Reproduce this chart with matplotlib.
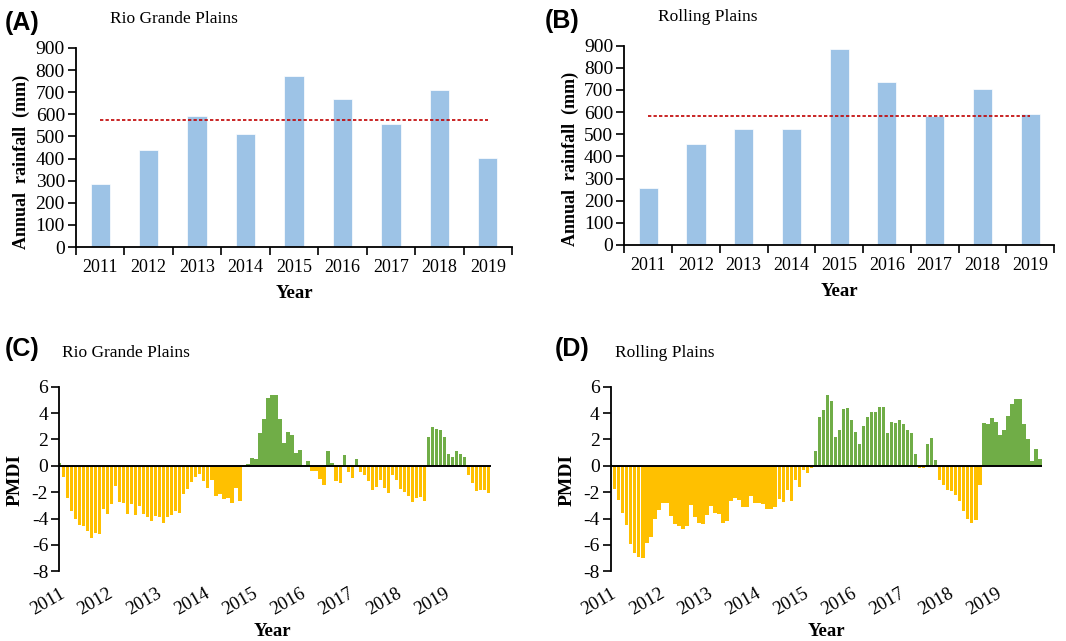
import matplotlib
matplotlib.use("Agg")
import matplotlib.pyplot as plt
import numpy as np

plt.rcParams["axes.unicode_minus"] = False

# ---------------- data ----------------
years = ["2011", "2012", "2013", "2014", "2015", "2016", "2017", "2018", "2019"]
rain_rio = [283, 437, 592, 513, 775, 668, 555, 708, 402]
rain_rolling = [257, 456, 522, 522, 886, 737, 582, 703, 591]
mean_rio = 575
mean_rolling = 582

# monthly PMDI, Jan 2011 .. Dec 2019
pmdi_rio = [
    0.2, -0.86, -2.46, -3.4, -4.0, -4.5, -4.6, -4.95, -5.5, -5.1, -5.2, -3.25,
    -3.65, -2.9, -1.5, -2.75, -2.8, -3.65, -2.9, -3.75, -3.05, -3.65, -3.85, -4.15,
    -3.8, -3.9, -4.3, -3.85, -3.7, -3.4, -3.55, -2.1, -1.75, -1.25, -0.85, -0.65,
    -1.15, -1.7, -1.05, -2.3, -2.15, -2.55, -2.45, -2.8, -1.7, -2.65, 0.05, 0.1,
    0.6, 0.5, 2.5, 3.56, 5.17, 5.4, 5.35, 3.56, 1.73, 2.54, 2.34, 0.97,
    1.22, 0.0, 0.36, -0.36, -0.36, -0.97, -1.47, 1.14, 0.2, -1.17, -1.27, 0.79,
    -0.5, -0.9, 0.53, -0.46, -0.7, -1.17, -1.83, -1.63, -1.07, -1.7, -2.03, -0.71,
    -1.07, -1.75, -1.96, -2.29, -2.72, -2.47, -2.34, -2.65, 2.16, 2.95, 2.8, 2.7,
    2.16, 0.89, 0.64, 1.14, 0.89, 0.64, -0.69, -1.32, -1.93, -1.83, -1.83, -2.03,
]
pmdi_rolling = [
    0.1, -1.78, -2.6, -3.6, -4.5, -5.9, -6.6, -6.9, -7.0, -5.85, -5.4, -4.0,
    -3.35, -2.8, -2.8, -3.8, -4.4, -4.55, -4.8, -4.55, -3.0, -3.9, -4.3, -4.4,
    -3.75, -3.05, -3.6, -3.65, -4.3, -4.15, -2.65, -2.45, -2.6, -3.15, -3.1, -2.3,
    -2.85, -2.8, -2.9, -3.3, -3.3, -3.1, -2.55, -2.75, -1.85, -2.65, -1.05, -1.6,
    -0.3, -0.55, -0.2, 1.15, 3.7, 4.2, 5.37, 4.9, 2.16, 2.7, 4.33, 4.4,
    3.5, 2.6, 1.68, 3.0, 3.7, 4.07, 4.07, 4.48, 4.48, 2.5, 3.3, 3.26,
    3.46, 3.2, 2.7, 2.5, 0.87, -0.2, -0.2, 1.68, 2.09, 0.46, -1.07, -1.42,
    -1.83, -1.93, -2.24, -2.7, -3.4, -4.0, -4.33, -4.1, -1.42, 3.26, 3.16, 3.64,
    3.3, 2.34, 2.7, 3.8, 4.68, 5.1, 5.1, 3.2, 2.0, 0.36, 1.3, 0.5,
]
pmdi_ticks = [-8, -6, -4, -2, 0, 2, 4, 6]
rain_ticks = list(range(0, 1000, 100))

# ---------------- style ----------------
W, H = 1066, 641
SERIF = ["Liberation Serif", "DejaVu Serif"]
SANS = ["Liberation Sans", "DejaVu Sans"]
BLUE = "#9DC3E6"
YELLOW = "#FFC000"
GREEN = "#70AD47"
RED = "#C00000"

fig = plt.figure(figsize=(W / 100, H / 100), dpi=100)


def ax_px(left, top, right, bottom):
    return fig.add_axes([left / W, 1 - bottom / H, (right - left) / W, (bottom - top) / H])


def ftext(x, y, s, **kw):
    fig.text(x / W, 1 - y / H, s, **kw)


def rain_panel(rect, values, mean, letter, title, lpos, tpos, ylab_x):
    ax = ax_px(*rect)
    x = np.arange(len(values))
    ax.bar(x, values, width=0.4, color=BLUE, edgecolor="white", linewidth=0.5, zorder=2)
    ax.plot([x[0], x[-1]], [mean, mean], color=RED, lw=1.2, ls=(0, (2, 1.3)), zorder=3)
    ax.set_xlim(-0.5, len(values) - 0.5)
    ax.set_ylim(0, 900)
    ax.set_yticks(rain_ticks)
    ax.set_xticks(x)
    ax.set_xticklabels(years)
    ax.set_xticks(np.arange(-0.5, len(values), 1.0), minor=True)
    ax.tick_params(axis="x", which="major", length=0, pad=9)
    ax.tick_params(axis="x", which="minor", length=6, width=1.2, direction="out")
    ax.tick_params(axis="y", length=6, width=1.2, direction="out", pad=2)
    for lab in ax.get_xticklabels():
        lab.set_fontfamily(SERIF)
        lab.set_fontsize(13)
    for lab in ax.get_yticklabels():
        lab.set_fontfamily(SERIF)
        lab.set_fontsize(14)
    for s in ["top", "right"]:
        ax.spines[s].set_visible(False)
    for s in ["left", "bottom"]:
        ax.spines[s].set_linewidth(1.3)
    ax.set_xlabel("Year", fontfamily=SERIF, fontweight="bold", fontsize=13.5, labelpad=6)
    ftext(ylab_x, (rect[1] + rect[3]) / 2 + 14, "Annual  rainfall  (mm)", rotation=90,
          ha="center", va="center", fontfamily=SERIF, fontweight="bold", fontsize=13)
    ftext(lpos[0], lpos[1], letter, ha="left", va="center", fontfamily=SANS,
          fontweight="bold", fontsize=18)
    ftext(tpos[0], tpos[1], title, ha="left", va="center", fontfamily=SERIF, fontsize=12.5)
    return ax


def pmdi_panel(rect, values, letter, title, lpos, tpos, ylab_x, year_x):
    ax = ax_px(*rect)
    x = np.arange(len(values))
    vals = np.array(values)
    colors = [GREEN if v > 0 else YELLOW for v in vals]
    ax.bar(x, vals, width=0.85, color=colors, edgecolor="none", zorder=2)
    ax.axhline(0, color="black", lw=1.4, zorder=3)
    ax.set_xlim(0, len(values) - 0.5)
    ax.set_ylim(-8, 6)
    ax.set_yticks(pmdi_ticks)
    ax.set_xticks(np.arange(0, len(values), 12))
    ax.set_xticklabels(years, rotation=30, ha="right", rotation_mode="anchor")
    ax.tick_params(axis="x", length=0, pad=10)
    ax.tick_params(axis="y", length=6, width=1.2, direction="out", pad=2)
    for lab in ax.get_xticklabels():
        lab.set_fontfamily(SERIF)
        lab.set_fontsize(13.5)
    for lab in ax.get_yticklabels():
        lab.set_fontfamily(SERIF)
        lab.set_fontsize(14)
    for s in ["top", "right", "bottom"]:
        ax.spines[s].set_visible(False)
    ax.spines["left"].set_linewidth(1.3)
    ftext(ylab_x, 480, "PMDI", rotation=90, ha="center", va="center",
          fontfamily=SERIF, fontweight="bold", fontsize=14)
    ftext(year_x, 632, "Year", ha="center", va="center", fontfamily=SERIF,
          fontweight="bold", fontsize=13.5)
    ftext(lpos[0], lpos[1], letter, ha="left", va="center", fontfamily=SANS,
          fontweight="bold", fontsize=18)
    ftext(tpos[0], tpos[1], title, ha="left", va="center", fontfamily=SERIF, fontsize=12.5)
    return ax


rain_panel((76, 48, 512, 247), rain_rio, mean_rio, "(A)", "Rio Grande Plains",
           (5, 23), (110, 19), 21)
rain_panel((624.4, 45.7, 1054, 245), rain_rolling, mean_rolling, "(B)", "Rolling Plains",
           (545, 21), (658, 17), 570)
pmdi_panel((59.3, 386.7, 490.7, 571.3), pmdi_rio, "(C)", "Rio Grande Plains",
           (5, 349), (62, 353), 15, 272)
pmdi_panel((610.7, 386.7, 1042, 571.3), pmdi_rolling, "(D)", "Rolling Plains",
           (555, 349), (615, 353), 567, 826)

fig.savefig("out.png", dpi=100)
